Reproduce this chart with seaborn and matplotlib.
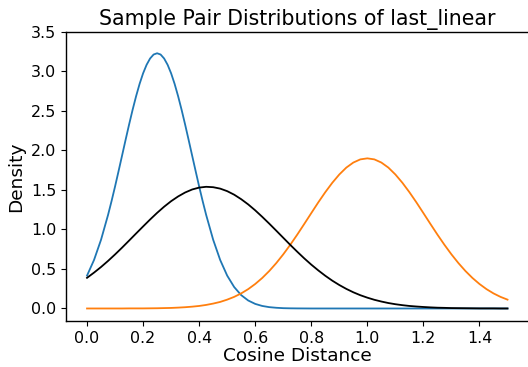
import numpy as np
import pandas as pd
import matplotlib
matplotlib.use("Agg")
import matplotlib.pyplot as plt
import seaborn as sns

# cosine distance grid (0 .. 1.5, step 0.025)
distancias = [0.000, 0.025, 0.050, 0.075, 0.100, 0.125, 0.150, 0.175, 0.200, 0.225,
              0.250, 0.275, 0.300, 0.325, 0.350, 0.375, 0.400, 0.425, 0.450, 0.475,
              0.500, 0.525, 0.550, 0.575, 0.600, 0.625, 0.650, 0.675, 0.700, 0.725,
              0.750, 0.775, 0.800, 0.825, 0.850, 0.875, 0.900, 0.925, 0.950, 0.975,
              1.000, 1.025, 1.050, 1.075, 1.100, 1.125, 1.150, 1.175, 1.200, 1.225,
              1.250, 1.275, 1.300, 1.325, 1.350, 1.375, 1.400, 1.425, 1.450, 1.475,
              1.500]

# curva azul: malla mas fina alrededor del pico
dist_azul = [0.000, 0.025, 0.050, 0.075, 0.0875, 0.100, 0.1125, 0.125, 0.1375, 0.150,
             0.1625, 0.175, 0.1875, 0.200, 0.2125, 0.225, 0.2375, 0.250, 0.2625, 0.275,
             0.2875, 0.300, 0.3125, 0.325, 0.3375, 0.350, 0.3625, 0.375, 0.3875, 0.400,
             0.4125, 0.425, 0.450, 0.475, 0.500, 0.525, 0.550, 0.575, 0.600, 0.625,
             0.650, 0.675, 0.700, 0.725, 0.750, 0.800, 0.900, 1.000, 1.100, 1.200,
             1.300, 1.400, 1.500]

dens_azul = [0.416, 0.614, 0.870, 1.184, 1.359, 1.544, 1.738, 1.935, 2.133, 2.327,
             2.513, 2.686, 2.842, 2.976, 3.084, 3.164, 3.214, 3.230, 3.214, 3.164,
             3.084, 2.976, 2.842, 2.686, 2.513, 2.327, 2.133, 1.935, 1.738, 1.544,
             1.359, 1.184, 0.870, 0.614, 0.416, 0.271, 0.169, 0.101, 0.058, 0.032,
             0.017, 0.009, 0.004, 0.002, 0.001, 0.000, 0.000, 0.000, 0.000, 0.000,
             0.000, 0.000, 0.000]

dens_naranja = [0.000, 0.000, 0.000, 0.000, 0.000, 0.000, 0.001, 0.001, 0.001, 0.002,
                0.003, 0.005, 0.007, 0.011, 0.016, 0.023, 0.032, 0.045, 0.062, 0.083,
                0.112, 0.147, 0.191, 0.245, 0.310, 0.386, 0.474, 0.574, 0.685, 0.806,
                0.935, 1.070, 1.207, 1.343, 1.472, 1.591, 1.696, 1.783, 1.847, 1.887,
                1.900, 1.887, 1.847, 1.783, 1.696, 1.591, 1.472, 1.343, 1.207, 1.070,
                0.935, 0.806, 0.685, 0.574, 0.474, 0.386, 0.310, 0.245, 0.191, 0.147,
                0.112]

dens_negra = [0.388, 0.454, 0.525, 0.602, 0.684, 0.770, 0.859, 0.949, 1.038, 1.126,
              1.210, 1.288, 1.358, 1.418, 1.468, 1.506, 1.530, 1.540, 1.535, 1.517,
              1.485, 1.440, 1.383, 1.317, 1.242, 1.160, 1.074, 0.985, 0.895, 0.805,
              0.718, 0.634, 0.555, 0.482, 0.414, 0.352, 0.297, 0.248, 0.205, 0.168,
              0.137, 0.110, 0.088, 0.069, 0.054, 0.042, 0.032, 0.025, 0.019, 0.014,
              0.010, 0.008, 0.005, 0.004, 0.003, 0.002, 0.001, 0.001, 0.001, 0.000,
              0.000]

x_ticks = [0.0, 0.2, 0.4, 0.6, 0.8, 1.0, 1.2, 1.4]
y_ticks = [0.0, 0.5, 1.0, 1.5, 2.0, 2.5, 3.0, 3.5]

df = pd.concat([
    pd.DataFrame({"dist": dist_azul, "dens": dens_azul, "serie": "azul"}),
    pd.DataFrame({"dist": distancias, "dens": dens_naranja, "serie": "naranja"}),
    pd.DataFrame({"dist": distancias, "dens": dens_negra, "serie": "negra"}),
], ignore_index=True)

paleta = {"azul": "#1f77b4", "naranja": "#ff7f0e", "negra": "black"}

fig = plt.figure(figsize=(5.28, 3.67), dpi=100)
ax = fig.add_axes([0.125, 0.125, 0.876, 0.788])

sns.lineplot(data=df, x="dist", y="dens", hue="serie", palette=paleta,
             linewidth=1.3, legend=False, ax=ax)

for lado in ["top", "right", "left", "bottom"]:
    ax.spines[lado].set_visible(True)
    ax.spines[lado].set_color("black")
    ax.spines[lado].set_linewidth(1.0)

ax.set_xlim(-0.075, 1.575)
ax.set_ylim(-0.16, 3.5)
ax.set_xticks(x_ticks)
ax.set_yticks(y_ticks)
ax.tick_params(labelsize=11.4)
ax.set_xlabel("Cosine Distance", fontsize=13.3, labelpad=1)
ax.set_ylabel("Density", fontsize=13.3)
ax.set_title("Sample Pair Distributions of last_linear", fontsize=14.8, pad=5)

fig.savefig("out.png", dpi=100)
